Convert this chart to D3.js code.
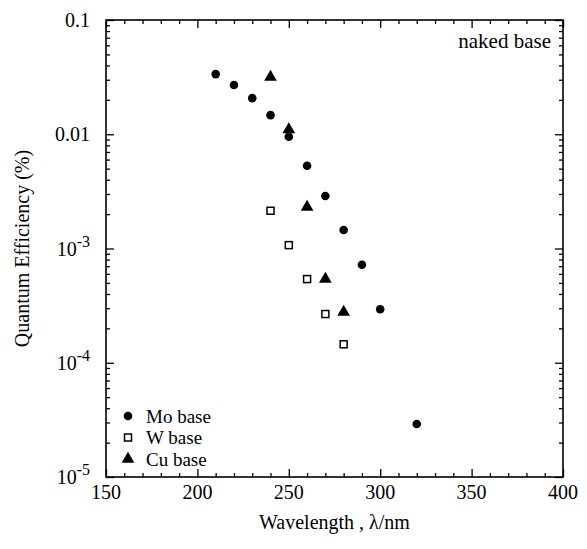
<!DOCTYPE html>
<html>
<head>
<meta charset="utf-8">
<script src="https://cdn.jsdelivr.net/npm/d3@7"></script>
<style>
body { margin: 0; background: #fff; }
text { font-family: "Liberation Serif", "Times New Roman", serif; fill: #000; }
.domain { stroke: none; }
.tick line { stroke: #000; stroke-width: 1.3; }
</style>
</head>
<body>
<div id="chart"></div>
<script>
var width = 587;
var height = 549;

// wavelengths (nm) and quantum efficiency (%)
var moWave = [210, 220, 230, 240, 250, 260, 270, 280, 290, 300, 320];
var moQE = [0.0336, 0.0270, 0.0207, 0.0147, 0.0095, 0.0053, 0.00288, 0.00145, 0.00072, 0.000294, 0.0000291];
var wWave = [240, 250, 260, 270, 280];
var wQE = [0.00214, 0.00107, 0.00054, 0.000267, 0.000145];
var cuWave = [240, 250, 260, 270, 280];
var cuQE = [0.0317, 0.011, 0.0023, 0.00054, 0.000277];

var xTicks = [150, 200, 250, 300, 350, 400];
var yTicks = [0.1, 0.01, 0.001, 0.0001, 0.00001];
var yLabels = [["0.1", ""], ["0.01", ""], ["10", "-3"], ["10", "-4"], ["10", "-5"]];
var legendNames = ["Mo base", "W base", "Cu base"];

var pLeft = 106, pRight = 563, pTop = 20, pBottom = 477;

var x = d3.scaleLinear().domain([150, 400]).range([pLeft, pRight]);
var y = d3.scaleLog().domain([1e-5, 0.1]).range([pBottom, pTop]);

var svg = d3.select("#chart").append("svg")
	.attr("width", width)
	.attr("height", height);

// minor tick values
var xMinor = d3.range(150, 401, 10).filter(function(d) { return d % 50 != 0; });
var yMinor = [];
for (var k = -5; k < -1; k++) {
	for (var m = 2; m < 10; m++) yMinor.push(m * Math.pow(10, k));
}

function axes(g, axis, vals, size) {
	g.call(axis.tickValues(vals).tickSize(size).tickFormat(""));
}

// bottom & top
var gb = svg.append("g").attr("transform", "translate(0," + pBottom + ")");
axes(gb.append("g"), d3.axisBottom(x), xTicks, -8);
axes(gb.append("g"), d3.axisBottom(x), xMinor, -4);
var gt = svg.append("g").attr("transform", "translate(0," + pTop + ")");
axes(gt.append("g"), d3.axisTop(x), xTicks, -8);
axes(gt.append("g"), d3.axisTop(x), xMinor, -4);
// left & right
var gl = svg.append("g").attr("transform", "translate(" + pLeft + ",0)");
axes(gl.append("g"), d3.axisLeft(y), yTicks, -8);
axes(gl.append("g"), d3.axisLeft(y), yMinor, -4);
var gr = svg.append("g").attr("transform", "translate(" + pRight + ",0)");
axes(gr.append("g"), d3.axisRight(y), yTicks, -8);
axes(gr.append("g"), d3.axisRight(y), yMinor, -4);

// frame
svg.append("rect")
	.attr("x", pLeft).attr("y", pTop)
	.attr("width", pRight - pLeft).attr("height", pBottom - pTop)
	.attr("fill", "none").attr("stroke", "#000").attr("stroke-width", 1.6);

// x tick labels
svg.selectAll(".xlab").data(xTicks).enter().append("text")
	.attr("x", function(d) { return x(d); })
	.attr("y", pBottom + 22)
	.attr("text-anchor", "middle")
	.style("font-size", "20px")
	.text(function(d) { return d; });

// y tick labels
yTicks.forEach(function(v, i) {
	var t = svg.append("text")
		.attr("x", pLeft - 16)
		.attr("y", y(v) + 7)
		.attr("text-anchor", "end")
		.style("font-size", "20px");
	t.append("tspan").text(yLabels[i][0]);
	if (yLabels[i][1]) {
		t.append("tspan").attr("dy", -9).style("font-size", "16px").text(yLabels[i][1]);
	}
});

// axis titles
svg.append("text")
	.attr("x", (pLeft + pRight) / 2)
	.attr("y", pBottom + 52)
	.attr("text-anchor", "middle")
	.style("font-size", "20px")
	.text("Wavelength , \u03bb/nm");

svg.append("text")
	.attr("transform", "translate(29," + ((pTop + pBottom) / 2) + ") rotate(-90)")
	.attr("text-anchor", "middle")
	.style("font-size", "20px")
	.text("Quantum Efficiency (%)");

svg.append("text")
	.attr("x", pRight - 12)
	.attr("y", pTop + 28)
	.attr("text-anchor", "end")
	.style("font-size", "21px")
	.text("naked base");

// markers
var circ = d3.symbol().type(d3.symbolCircle).size(58);
var tri = d3.symbol().type(d3.symbolTriangle).size(70);

svg.selectAll(".mo").data(moWave).enter().append("path")
	.attr("d", circ)
	.attr("transform", function(d, i) { return "translate(" + x(d) + "," + y(moQE[i]) + ")"; })
	.attr("fill", "#000");

svg.selectAll(".w").data(wWave).enter().append("rect")
	.attr("x", function(d) { return x(d) - 3.5; })
	.attr("y", function(d, i) { return y(wQE[i]) - 3.5; })
	.attr("width", 7).attr("height", 7)
	.attr("fill", "#fff").attr("stroke", "#000").attr("stroke-width", 1.5);

svg.selectAll(".cu").data(cuWave).enter().append("path")
	.attr("d", tri)
	.attr("transform", function(d, i) { return "translate(" + x(d) + "," + y(cuQE[i]) + ")"; })
	.attr("fill", "#000");

// legend
var lg = svg.append("g").attr("transform", "translate(128,416)");
legendNames.forEach(function(name, i) {
	var row = lg.append("g").attr("transform", "translate(0," + (i * 21.5) + ")");
	if (i == 0) row.append("path").attr("d", circ).attr("fill", "#000");
	if (i == 1) row.append("rect").attr("x", -3.5).attr("y", -3.5).attr("width", 7).attr("height", 7)
		.attr("fill", "#fff").attr("stroke", "#000").attr("stroke-width", 1.5);
	if (i == 2) row.append("path").attr("d", tri).attr("fill", "#000");
	row.append("text").attr("x", 18).attr("y", 6.5)
		.style("font-size", "19px").text(name);
});
</script>
</body>
</html>
